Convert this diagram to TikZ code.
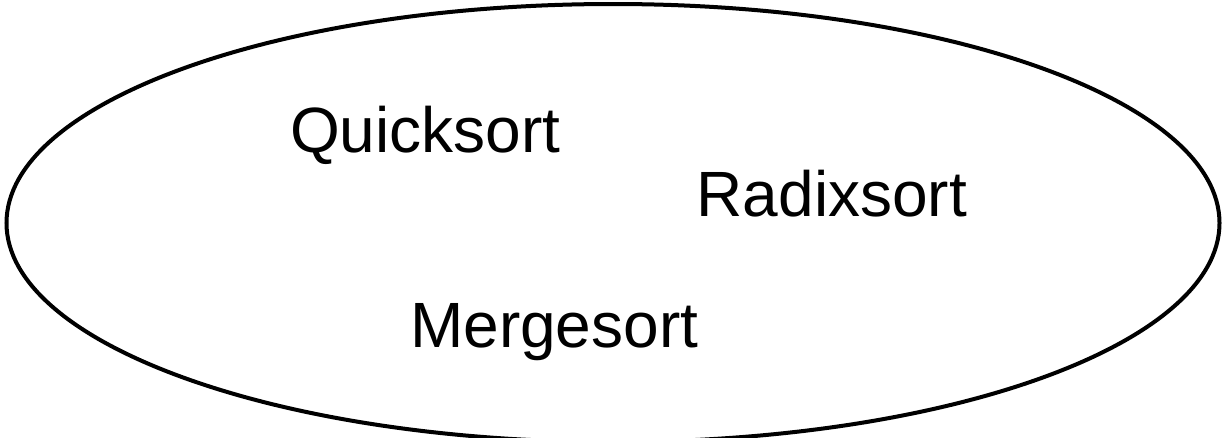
\documentclass[tikz,border=0pt]{standalone}
\usepackage{fontspec}
\setmainfont{Liberation Sans}
\usetikzlibrary{shapes.geometric}
\begin{document}
\begin{tikzpicture}[x=1pt,y=-1pt,
  setbox/.style={draw=black, line width=4pt, ellipse, inner sep=0pt,
    minimum width=1213pt, minimum height=438pt},
  algo/.style={anchor=base west, inner sep=0pt, text=black,
    font=\fontsize{64}{74}\selectfont}]
  % page frame; the lower rim of the set runs slightly past the bottom edge
  \clip (0,0) rectangle (1225,437);
  \fill[white] (0,0) rectangle (1225,437);
  \node[setbox] (set) at (613,223) {};
  \node[algo] (quick) at (290,152.5) {Quicksort};
  \node[algo] (radix) at (696.5,216.7) {Radixsort};
  \node[algo] (merge) at (410,347.3) {Mergesort};
\end{tikzpicture}
\end{document}
